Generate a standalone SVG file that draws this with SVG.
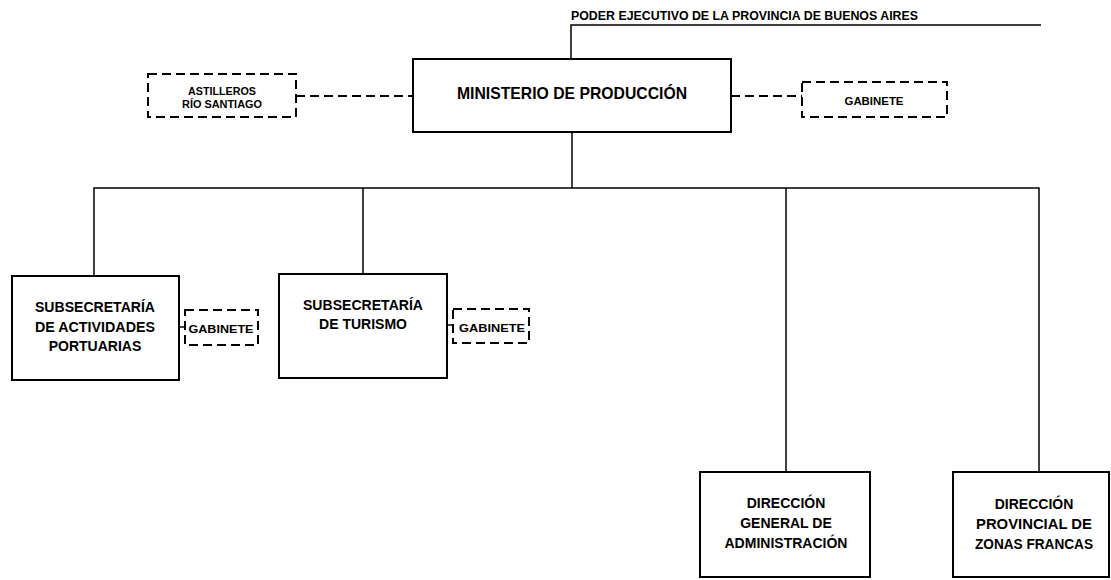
<svg xmlns="http://www.w3.org/2000/svg" width="1111" height="580" viewBox="0 0 1111 580">
<style>
.box{fill:#fff;stroke:#000;stroke-width:2}
.dbox{fill:#fff;stroke:#000;stroke-width:2;stroke-dasharray:9 5}
.ln{fill:none;stroke:#000;stroke-width:1.5}
.dln{fill:none;stroke:#000;stroke-width:2;stroke-dasharray:9 5}
text{font-family:"Liberation Sans",Arial,sans-serif;font-weight:bold;fill:#000;text-anchor:middle}
.t14{font-size:14px}
.t11{font-size:11px}
.t10{font-size:10.5px}
.tg{font-size:11.5px}
</style>
<rect width="1111" height="580" fill="#fff"/>
<g id="connectors">
<path class="ln" d="M571,59 V25 H1041"/>
<path class="ln" d="M572,132 V188"/>
<path class="ln" d="M94,276 V188 H1039 V472"/>
<path class="ln" d="M363,188 V274"/>
<path class="ln" d="M786,188 V472"/>
<path class="dln" d="M296,96 H413"/>
<path class="dln" d="M731,96 H802"/>
<path class="ln" d="M179,327 H185"/>
<path class="ln" d="M447,325 H453"/>
</g>
<g id="poder">
<text x="571" y="20" style="font-size:12px;text-anchor:start" textLength="347" lengthAdjust="spacingAndGlyphs">PODER EJECUTIVO DE LA PROVINCIA DE BUENOS AIRES</text>
</g>
<g id="ministerio">
<rect class="box" x="413" y="59" width="318" height="73"/>
<text x="572" y="99" style="font-size:17px" textLength="230" lengthAdjust="spacingAndGlyphs">MINISTERIO DE PRODUCCIÓN</text>
</g>
<g id="astilleros">
<rect class="dbox" x="148" y="74" width="148" height="43"/>
<text class="t11" x="222" y="95" textLength="68" lengthAdjust="spacingAndGlyphs">ASTILLEROS</text>
<text class="t11" x="222" y="108" textLength="80" lengthAdjust="spacingAndGlyphs">RÍO SANTIAGO</text>
</g>
<g id="gabinete-ministerio">
<rect class="dbox" x="802" y="82" width="145" height="35"/>
<text class="t10" x="874" y="105" textLength="59" lengthAdjust="spacingAndGlyphs">GABINETE</text>
</g>
<g id="subsec-portuarias">
<rect class="box" x="12" y="276" width="167" height="104"/>
<text class="t14" x="95" y="312" textLength="120" lengthAdjust="spacingAndGlyphs">SUBSECRETARÍA</text>
<text class="t14" x="95" y="332" textLength="120" lengthAdjust="spacingAndGlyphs">DE ACTIVIDADES</text>
<text class="t14" x="95" y="351">PORTUARIAS</text>
</g>
<g id="gabinete-portuarias">
<rect class="dbox" x="185" y="310" width="73" height="35"/>
<text class="tg" x="221" y="333" textLength="65" lengthAdjust="spacingAndGlyphs">GABINETE</text>
</g>
<g id="subsec-turismo">
<rect class="box" x="279" y="274" width="168" height="104"/>
<text class="t14" x="363" y="310" textLength="120" lengthAdjust="spacingAndGlyphs">SUBSECRETARÍA</text>
<text class="t14" x="363" y="329">DE TURISMO</text>
</g>
<g id="gabinete-turismo">
<rect class="dbox" x="453" y="309" width="76" height="34"/>
<text class="tg" x="492" y="332" textLength="66" lengthAdjust="spacingAndGlyphs">GABINETE</text>
</g>
<g id="dir-administracion">
<rect class="box" x="700" y="472" width="170" height="105"/>
<text class="t14" x="786" y="508">DIRECCIÓN</text>
<text class="t14" x="786" y="528">GENERAL DE</text>
<text class="t14" x="786" y="548" textLength="123" lengthAdjust="spacingAndGlyphs">ADMINISTRACIÓN</text>
</g>
<g id="dir-zonas-francas">
<rect class="box" x="953" y="472" width="156" height="105"/>
<text class="t14" x="1034" y="509">DIRECCIÓN</text>
<text class="t14" x="1034" y="529" textLength="116" lengthAdjust="spacingAndGlyphs">PROVINCIAL DE</text>
<text class="t14" x="1034" y="549" textLength="118" lengthAdjust="spacingAndGlyphs">ZONAS FRANCAS</text>
</g>
</svg>
